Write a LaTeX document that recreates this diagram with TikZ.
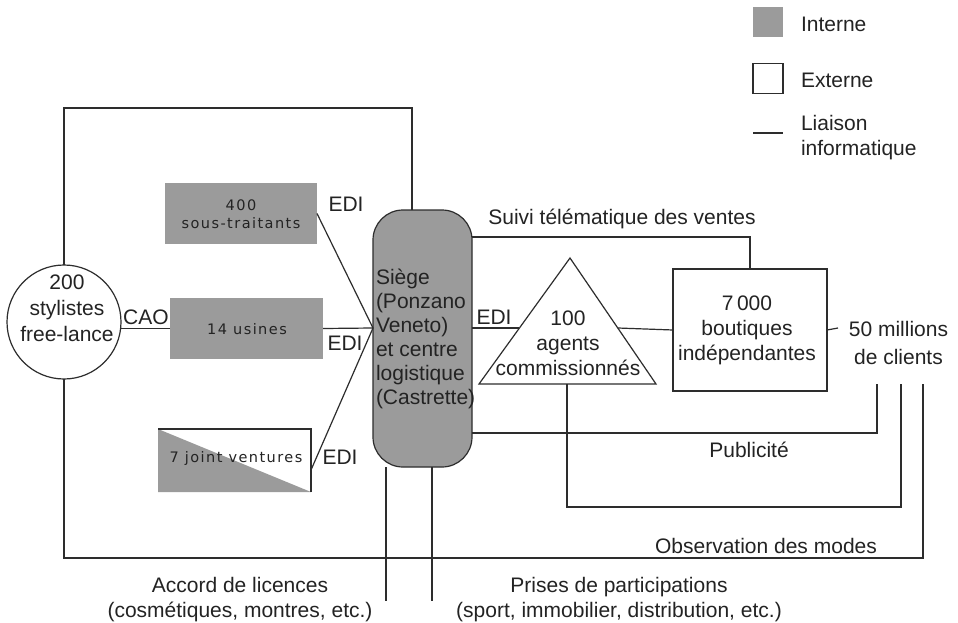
\documentclass[tikz,border=0pt]{standalone}
\usepackage{fontspec}
\setmainfont{Liberation Sans}
\newfontfamily\boxfont[LetterSpace=10]{DejaVu Sans}
\definecolor{boxgray}{RGB}{155,155,155}
\definecolor{linecol}{RGB}{45,45,45}
\definecolor{txtcol}{RGB}{35,35,35}
\begin{document}
\begin{tikzpicture}[x=1pt,y=-1pt,
  every node/.style={text=txtcol, inner sep=0pt, outer sep=0pt},
  txt/.style={font=\fontsize{21}{25}\selectfont, align=center},
  small/.style={font=\boxfont\fontsize{14.5}{18}\selectfont, align=center},
  conn/.style={draw=linecol, line width=1.2pt},
  intbox/.style={fill=boxgray, draw=none},
  extbox/.style={draw=linecol, line width=1.2pt, fill=white}]
\useasboundingbox (0,0) rectangle (958,623);
\fill[white] (0,0) rectangle (958,623);

% legend
\node[intbox, minimum width=30pt, minimum height=30pt] (lgint) at (768,22) {};
\node[txt, anchor=west] (lgintt) at (801,24) {Interne};
\node[extbox, minimum width=30pt, minimum height=30pt] (lgext) at (768,78.5) {};
\node[txt, anchor=west] (lgextt) at (801,80) {Externe};
\coordinate (lgl1) at (753,133);
\coordinate (lgl2) at (783,133);
\draw[conn] (lgl1) -- (lgl2);
\node[txt, anchor=west, align=left] (lglt) at (801,137.5) {Liaison\\informatique};

% nodes
\node[draw=linecol, line width=1.2pt, fill=white, circle, minimum size=114pt] (styl) at (64,322) {};
\node[txt, font=\fontsize{21}{26}\selectfont] (stylt) at (67,308) {200\\stylistes\\free-lance};

\node[intbox, minimum width=152pt, minimum height=61pt] (sous) at (241,213.5) {};
\node[small] (soust) at (241,214) {400\\sous-traitants};

\node[intbox, minimum width=153pt, minimum height=61pt] (usines) at (246.5,328.5) {};
\node[small] (usinest) at (247,329) {14 usines};

\node[minimum width=153pt, minimum height=63pt] (jv) at (234.5,460.5) {};
\fill[boxgray] (jv.north west) -- (jv.south east) -- (jv.south west) -- cycle;
\draw[conn] (jv.north west) -- (jv.north east) -- (jv.south east);
\node[small] (jvt) at (236,458) {7 joint ventures};

\node[draw=linecol, line width=1.2pt, fill=boxgray, rounded corners=30pt,
      minimum width=99pt, minimum height=257pt] (siege) at (422.5,338.5) {};
\node[txt, anchor=west, align=left, font=\fontsize{21}{24}\selectfont] (siegt) at (376,339)
  {Siège\\(Ponzano\\Veneto)\\et centre\\logistique\\(Castrette)};

\coordinate (apex) at (570,258);
\coordinate (tbl) at (479,384);
\coordinate (tbr) at (656,384);
\draw[conn, line join=miter] (apex) -- (tbl) -- (tbr) -- cycle;
\coordinate (agbot) at (567,384);
\coordinate (triL) at (519.4,328);
\coordinate (triR) at (617.8,328);
\node[txt] (agt) at (568,343) {100\\agents\\commissionnés};

\node[extbox, minimum width=154pt, minimum height=122pt] (bout) at (750,330) {};
\node[txt] (boutt) at (747,330.5) {7\,000\\boutiques\\indépendantes};

\node[txt, font=\fontsize{21}{28}\selectfont] (cli) at (898.5,343) {50 millions\\de clients};

% connection points
\coordinate (conv) at (373,328);
\coordinate (jvout) at (311,470);
\coordinate (cliend) at (838,328);
\coordinate (c1) at (877,384);
\coordinate (c2) at (901,384);
\coordinate (c3) at (923,384);
\coordinate (topy) at (412,108);
\coordinate (boty) at (0,558);
\coordinate (lic) at (386,601);
\coordinate (part) at (432,601);

% connectors
\draw[conn] (styl.north) |- (topy) -- (topy |- siege.north);
\draw[conn] (styl.south) |- (c3 |- boty) -- (c3);
\draw[conn] (usines.west -| styl.east) -- (usines.west);
\draw[conn] (usines.east) -- (conv);
\draw[conn] (sous.east) -- (conv);
\draw[conn] (jvout) -- (conv);
\draw[conn] (siege.east |- conv) -- (triL);
\draw[conn] (triR) -- (bout.west);
\draw[conn] (bout.east) -- (cliend);
\draw[conn] (siege.east |- 0,237) -| (bout.north);
\draw[conn] (siege.east |- 0,433) -| (c1);
\draw[conn] (agbot) |- (c2 |- 0,507) -- (c2);
\draw[conn] (lic |- siege.south) -- (lic);
\draw[conn] (part |- siege.south) -- (part);

% labels
\node[txt] (edi1) at (346,204) {EDI};
\node[txt] (edi2) at (345,343) {EDI};
\node[txt] (edi3) at (340,457) {EDI};
\node[txt] (cao) at (146,317) {CAO};
\node[txt] (edi4) at (494,317) {EDI};
\node[txt] (suivi) at (622,219) {Suivi télématique des ventes};
\node[txt] (pub) at (749,450) {Publicité};
\node[txt] (obs) at (766,546) {Observation des modes};
\node[txt] (lict) at (240,599.5) {Accord de licences\\(cosmétiques, montres, etc.)};
\node[txt] (partt) at (619,599.5) {Prises de participations\\(sport, immobilier, distribution, etc.)};
\end{tikzpicture}
\end{document}
